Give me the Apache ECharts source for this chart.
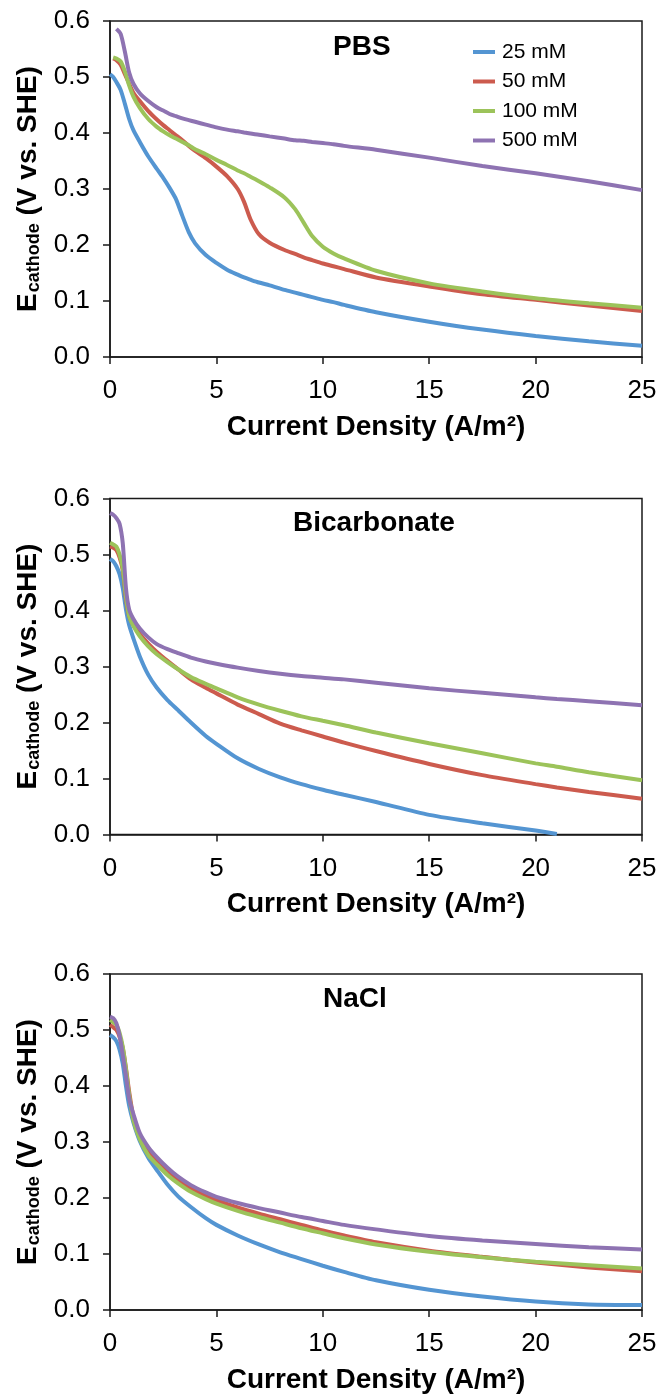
<!DOCTYPE html>
<html>
<head>
<meta charset="utf-8">
<script src="https://cdn.jsdelivr.net/npm/echarts@6/dist/echarts.min.js"></script>
<style>
  html, body { margin: 0; padding: 0; background: #fff; }
  #chart { width: 660px; height: 1397px; }
</style>
</head>
<body>
<div id="chart"></div>
<script>
// Cathode potential (V vs. SHE) against current density (A/m2) in three electrolytes
const seriesNames = ['25 mM', '50 mM', '100 mM', '500 mM'];
const panelTitles = ['PBS', 'Bicarbonate', 'NaCl'];

// PBS
const pbsX = [0, 0.15, 0.3, 0.5, 0.7, 0.9, 1.1, 1.4, 1.8, 2.2, 2.5, 2.8, 3.1, 3.4, 3.7, 4, 4.5, 5, 5.5, 6, 6.3, 6.6, 7, 7.5, 8.2, 8.7, 9.1, 9.5, 10, 10.5, 11, 12.5, 15, 17.5, 20, 22.5, 25];
const pbs25 = [0.505, 0.500, 0.491, 0.477, 0.452, 0.425, 0.405, 0.384, 0.358, 0.336, 0.320, 0.302, 0.282, 0.252, 0.223, 0.203, 0.182, 0.168, 0.156, 0.147, 0.142, 0.138, 0.133, 0.128, 0.120, 0.115, 0.111, 0.107, 0.102, 0.098, 0.093, 0.080, 0.063, 0.049, 0.0375, 0.028, 0.020];
const pbs50 = [null, 0.533, 0.530, 0.522, 0.505, 0.488, 0.472, 0.457, 0.439, 0.424, 0.414, 0.405, 0.396, 0.387, 0.377, 0.368, 0.355, 0.340, 0.323, 0.300, 0.277, 0.246, 0.219, 0.204, 0.191, 0.184, 0.178, 0.173, 0.167, 0.162, 0.157, 0.142, 0.126, 0.112, 0.102, 0.092, 0.082];
const pbs100 = [null, 0.535, 0.533, 0.528, 0.510, 0.485, 0.465, 0.445, 0.425, 0.411, 0.403, 0.396, 0.390, 0.384, 0.378, 0.371, 0.362, 0.352, 0.343, 0.333, 0.328, 0.322, 0.314, 0.303, 0.285, 0.264, 0.240, 0.216, 0.197, 0.185, 0.176, 0.154, 0.1315, 0.117, 0.105, 0.096, 0.088];
const pbs500 = [null, null, 0.586, 0.577, 0.545, 0.508, 0.488, 0.471, 0.457, 0.446, 0.440, 0.434, 0.430, 0.426, 0.423, 0.420, 0.415, 0.410, 0.406, 0.403, 0.401, 0.399, 0.397, 0.394, 0.390, 0.387, 0.386, 0.384, 0.382, 0.380, 0.377, 0.370, 0.356, 0.341, 0.328, 0.314, 0.298];

// Bicarbonate
const bicX = [0, 0.15, 0.3, 0.45, 0.6, 0.75, 0.9, 1.1, 1.4, 1.8, 2.2, 2.7, 3.2, 3.8, 4.5, 5, 6, 7, 8, 9, 10, 11, 12.5, 15, 17.5, 20, 21, 22.5, 25];
const bic25 = [0.492, 0.488, 0.479, 0.465, 0.440, 0.402, 0.374, 0.350, 0.318, 0.285, 0.262, 0.240, 0.222, 0.200, 0.176, 0.162, 0.136, 0.117, 0.102, 0.090, 0.080, 0.071, 0.058, 0.035, 0.020, 0.007, 0.001, null, null];
const bic50 = [0.514, 0.512, 0.508, 0.495, 0.472, 0.420, 0.390, 0.374, 0.358, 0.341, 0.326, 0.310, 0.295, 0.277, 0.262, 0.252, 0.232, 0.215, 0.198, 0.186, 0.175, 0.164, 0.149, 0.126, 0.106, 0.090, 0.084, 0.076, 0.064];
const bic100 = [0.521, 0.518, 0.514, 0.500, 0.475, 0.425, 0.390, 0.372, 0.354, 0.336, 0.322, 0.308, 0.295, 0.281, 0.269, 0.261, 0.245, 0.232, 0.221, 0.211, 0.203, 0.195, 0.182, 0.163, 0.145, 0.127, 0.121, 0.111, 0.097];
const bic500 = [0.574, 0.571, 0.565, 0.555, 0.520, 0.440, 0.402, 0.385, 0.368, 0.352, 0.340, 0.331, 0.324, 0.316, 0.309, 0.305, 0.298, 0.292, 0.287, 0.283, 0.280, 0.277, 0.271, 0.261, 0.253, 0.245, 0.242, 0.238, 0.231];

// NaCl
const naclX = [0, 0.15, 0.3, 0.45, 0.6, 0.75, 0.9, 1.1, 1.4, 1.8, 2.2, 2.7, 3.2, 3.8, 4.5, 5, 6, 7, 8, 9, 10, 11, 12.5, 15, 17.5, 20, 22.5, 25];
const nacl25 = [0.491, 0.487, 0.480, 0.465, 0.440, 0.400, 0.365, 0.335, 0.302, 0.272, 0.250, 0.224, 0.203, 0.184, 0.164, 0.152, 0.133, 0.117, 0.103, 0.091, 0.079, 0.068, 0.053, 0.036, 0.024, 0.015, 0.010, 0.009];
const nacl50 = [0.509, 0.505, 0.500, 0.488, 0.468, 0.432, 0.390, 0.345, 0.312, 0.282, 0.266, 0.247, 0.232, 0.217, 0.204, 0.196, 0.183, 0.172, 0.162, 0.152, 0.142, 0.133, 0.121, 0.106, 0.095, 0.085, 0.076, 0.069];
const nacl100 = [0.518, 0.514, 0.509, 0.495, 0.470, 0.430, 0.384, 0.339, 0.305, 0.276, 0.260, 0.241, 0.226, 0.211, 0.198, 0.190, 0.177, 0.166, 0.156, 0.146, 0.137, 0.128, 0.117, 0.104, 0.094, 0.086, 0.080, 0.074];
const nacl500 = [0.524, 0.521, 0.512, 0.490, 0.455, 0.418, 0.378, 0.350, 0.316, 0.291, 0.273, 0.254, 0.238, 0.223, 0.210, 0.202, 0.191, 0.182, 0.174, 0.166, 0.159, 0.152, 0.144, 0.132, 0.124, 0.118, 0.112, 0.108];

const panels = [
  { x: pbsX, ys: [pbs25, pbs50, pbs100, pbs500] },
  { x: bicX, ys: [bic25, bic50, bic100, bic500] },
  { x: naclX, ys: [nacl25, nacl50, nacl100, nacl500] }
];

const lineColors = ['#5495d2', '#cc5b4e', '#9cc35a', '#8e73b2'];
const FONT = '"Liberation Sans", Arial, Helvetica, sans-serif';
const gridTops = [21, 498.5, 974];
const titleBoxes = [
  { left: 333, top: 32 },
  { left: 293, top: 508 },
  { left: 323, top: 984 }
];

const grid = [], xAxis = [], yAxis = [], series = [], title = [];

panels.forEach((p, pi) => {
  grid.push({
    left: 110, top: gridTops[pi], width: 532, height: 336,
    show: true, borderColor: '#1a1a1a', borderWidth: 1.5, backgroundColor: 'transparent'
  });
  xAxis.push({
    type: 'value', gridIndex: pi, min: 0, max: 25, interval: 5,
    axisLine: { show: true, onZero: false, lineStyle: { color: '#1a1a1a', width: 1.5 } },
    axisTick: { show: true, inside: false, length: 7, lineStyle: { color: '#1a1a1a', width: 1.5 } },
    axisLabel: { show: true, margin: 21, fontSize: 26, color: '#000', fontFamily: FONT },
    splitLine: { show: false },
    name: 'Current Density (A/m²)', nameLocation: 'middle', nameGap: 56,
    nameTextStyle: { fontSize: 28, fontWeight: 'bold', color: '#000', fontFamily: FONT }
  });
  yAxis.push({
    type: 'value', gridIndex: pi, min: 0, max: 0.6, interval: 0.1,
    axisLine: { show: true, onZero: false, lineStyle: { color: '#1a1a1a', width: 1.5 } },
    axisTick: { show: true, inside: false, length: 7, lineStyle: { color: '#1a1a1a', width: 1.5 } },
    axisLabel: { show: true, margin: 20, fontSize: 26, color: '#000', fontFamily: FONT,
      formatter: v => v.toFixed(1) },
    splitLine: { show: false },
    name: '{e|E}{s|cathode}{e| (V vs. SHE)}', nameLocation: 'middle', nameGap: 64, nameRotate: 90,
    nameTextStyle: {
      rich: {
        e: { fontSize: 28, fontWeight: 'bold', color: '#000', fontFamily: FONT },
        s: { fontSize: 18, fontWeight: 'bold', color: '#000', fontFamily: FONT, padding: [12, 0, 0, 1] }
      }
    }
  });
  title.push({
    text: panelTitles[pi], left: titleBoxes[pi].left, top: titleBoxes[pi].top, padding: 0,
    textStyle: { fontSize: 28, fontWeight: 'bold', color: '#000', fontFamily: FONT, lineHeight: 30 }
  });
  p.ys.forEach((ys, si) => {
    series.push({
      name: seriesNames[si], type: 'line', xAxisIndex: pi, yAxisIndex: pi,
      data: p.x.map((x, i) => [x, ys[i]]),
      showSymbol: false, symbol: 'none', smooth: 0.25,
      connectNulls: false, clip: true,
      lineStyle: { width: 4, color: lineColors[si] },
      itemStyle: { color: lineColors[si] },
      z: 2 + si
    });
  });
});

const chart = echarts.init(document.getElementById('chart'), null, { renderer: 'canvas' });
chart.setOption({
  animation: false,
  backgroundColor: '#fff',
  color: lineColors,
  title,
  legend: {
    data: seriesNames, orient: 'vertical', left: 473, top: 41, padding: 0,
    icon: 'rect', itemWidth: 22, itemHeight: 4, itemGap: 7.5,
    textStyle: { fontSize: 21, color: '#000', fontFamily: FONT, lineHeight: 22, padding: [0, 0, 0, 2] }
  },
  grid, xAxis, yAxis, series
});
</script>
</body>
</html>
